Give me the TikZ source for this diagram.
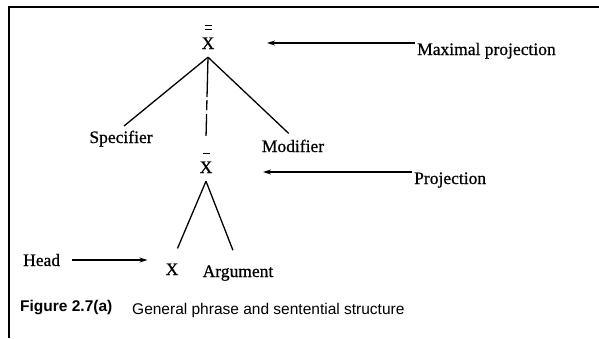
\documentclass[tikz,border=0pt]{standalone}
\usepackage{fontspec}
\setmainfont{Liberation Serif}
\newfontfamily\treefont[FakeBold=0.7]{Liberation Serif}
\newfontfamily\capfont{Liberation Sans}
\usetikzlibrary{arrows.meta}

% bars over the category letter
\newcommand{\barone}{\rule{7pt}{1.3pt}}
\newcommand{\bartwo}{\vbox{\hrule width 7pt height 1.3pt \vskip 2.4pt \hrule width 7pt height 1.3pt}}
\newcommand{\barX}[1]{\begin{tabular}[b]{@{}c@{}}#1\\[-1pt]X\end{tabular}}

\begin{document}
\begin{tikzpicture}[x=1pt, y=-1pt,
    word/.style={font=\treefont\fontsize{17.5}{20}\selectfont, inner sep=2pt},
    captext/.style={font=\capfont\fontsize{15.5}{18}\selectfont, inner sep=0pt, anchor=base west},
    branch/.style={line width=1.3pt},
    arr/.style={line width=1.3pt, -{Stealth[length=8pt,width=5pt]}}
]
\useasboundingbox (0,0) rectangle (599,338);
% Frame
\draw[line width=2pt] (9,338) -- (9,7) -- (599,7);

% Tree
\node[word, anchor=base] (xbb) at (208,49) {\barX{\bartwo}};
\node[word, anchor=base] (spec) at (121,143) {Specifier};
\node[word, anchor=base] (mod) at (293,152) {Modifier};
\node[word, anchor=base] (xb) at (206,173) {\barX{\barone}};
\node[word, anchor=base] (hx) at (172,275) {X};
\node[word, anchor=base] (arg) at (238,277) {Argument};
\node[word, anchor=base west] (head) at (21,266) {Head};

\draw[branch, shorten >=4pt] (xbb.south) -- (spec.north);
\draw[branch, shorten >=6pt] (xbb.south) -- (mod.north);
\draw[branch, shorten >=2pt, dash pattern=on 40pt off 3pt on 10pt off 4pt on 40pt] (xbb.south) -- (xb.north);
\draw[branch, shorten >=14pt] (xb.south) -- (hx.north);
\draw[branch, shorten >=14pt] (xb.south) -- (arg.north);

% Labels on the right
\node[word, anchor=base west] (maxlbl) at (415,55) {Maximal projection};
\node[word, anchor=base west] (projlbl) at (412,184) {Projection};
\coordinate (maxtip) at (267,43);
\coordinate (projtip) at (263,172);

\draw[arr] (maxlbl.west |- maxtip) -- (maxtip);
\draw[arr] (projlbl.west |- projtip) -- (projtip);
\draw[arr, shorten <=10pt, shorten >=16pt] (head.east) -- (hx.west |- head.east);

% Caption
\node[captext, font=\capfont\bfseries\fontsize{15.5}{18}\selectfont] (fig) at (20,311) {Figure 2.7(a)};
\node[captext] (title) at (132,314) {General phrase and sentential structure};
\end{tikzpicture}
\end{document}
